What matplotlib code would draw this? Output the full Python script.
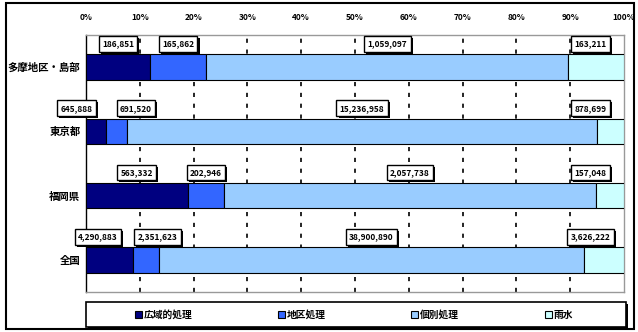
import numpy as np
import matplotlib
matplotlib.use("Agg")
import matplotlib.pyplot as plt
import matplotlib.patheffects as pe
from matplotlib.patches import Rectangle

plt.rcParams['font.family'] = ['Noto Sans CJK JP', 'DejaVu Sans']

# ---- data ----
categories = ['多摩地区・島部', '東京都', '福岡県', '全国']
series_names = ['広域的処理', '地区処理', '個別処理', '雨水']
kouiki = [186851, 645888, 563332, 4290883]
chiku = [165862, 691520, 202946, 2351623]
kobetsu = [1059097, 15236958, 2057738, 38900890]
usui = [163211, 878699, 157048, 3626222]
values = [kouiki, chiku, kobetsu, usui]
colors = ['#000080', '#3366FF', '#99CCFF', '#CCFFFF']
xticks = [0, 10, 20, 30, 40, 50, 60, 70, 80, 90, 100]

# ---- figure ----
fig = plt.figure(figsize=(6.38, 3.32), dpi=100)
ax = fig.add_axes([86 / 638, 1 - 292 / 332, 538 / 638, 257 / 332])

vals = np.array(values, dtype=float)      # series x rows
totals = vals.sum(axis=0)
pct = vals / totals * 100
y = np.arange(len(categories))
bar_h = 0.4

left = np.zeros(len(categories))
for i, name in enumerate(series_names):
    ax.barh(y, pct[i], left=left, height=bar_h, color=colors[i],
            edgecolor='black', linewidth=0.8, label=name, zorder=3)
    left += pct[i]

# data labels (boxes above the bars), nudged apart when they collide
box_w = 9.5
for r in range(len(categories)):
    starts = np.concatenate([[0], np.cumsum(pct[:, r])[:-1]])
    xs = starts + pct[:, r] / 2
    for k in range(1, len(xs)):
        need = box_w + 1.5
        if xs[k] - xs[k - 1] < need:
            d = (need - (xs[k] - xs[k - 1])) / 2
            xs[k - 1] -= d
            xs[k] += d
    xs[-1] = min(xs[-1], 100 - box_w / 2 - 1.5)
    for k in range(len(xs)):
        t = ax.text(xs[k], y[r] - 0.36, f'{int(vals[k, r]):,}', ha='center', va='center',
                    fontsize=6, fontweight='bold', zorder=5,
                    bbox=dict(boxstyle='square,pad=0.4', fc='white', ec='black', lw=1.0))
        t.get_bbox_patch().set_path_effects(
            [pe.withSimplePatchShadow(offset=(1.5, -1.5), shadow_rgbFace='black', alpha=1.0)])

ax.set_xlim(0, 100)
ax.set_ylim(len(categories) - 0.5, -0.5)
ax.set_yticks(y)
ax.set_yticklabels(categories, fontsize=7.5, fontweight='bold')
ax.set_xticks(xticks)
ax.set_xticklabels([f'{t}%' for t in xticks], fontsize=6, fontweight='bold')
ax.xaxis.tick_top()
ax.tick_params(axis='x', length=0, pad=9)
ax.tick_params(axis='y', length=0, pad=4)

for xv in xticks[1:-1]:
    ax.axvline(xv, color='black', linestyle=(0, (2.5, 4)), linewidth=1.2, zorder=1)

for s in ['top', 'right', 'bottom']:
    ax.spines[s].set_color('#999999')
    ax.spines[s].set_linewidth(1.0)
ax.spines['left'].set_color('black')
ax.spines['left'].set_linewidth(1.0)

# legend box
frame = Rectangle((86 / 638, 1 - 327 / 332), 540 / 638, 25 / 332, transform=fig.transFigure,
                  fc='white', ec='black', lw=1.2)
frame.set_path_effects([pe.withSimplePatchShadow(offset=(1.5, -1.5), shadow_rgbFace='black', alpha=1.0)])
fig.patches.append(frame)
handles, labels = ax.get_legend_handles_labels()
leg = fig.legend(handles, labels, loc='center', ncol=4,
                 bbox_to_anchor=(354 / 638, 1 - 314.5 / 332),
                 fontsize=7, frameon=False, columnspacing=8.8,
                 handlelength=0.7, handleheight=0.7, handletextpad=0.2)
for txt in leg.get_texts():
    txt.set_fontweight('bold')

# outer chart border
fig.patches.append(Rectangle((6 / 638, 3 / 332), 628 / 638, 326 / 332, transform=fig.transFigure,
                             fill=False, edgecolor='black', linewidth=1.5))

fig.savefig('out.png', dpi=100)
